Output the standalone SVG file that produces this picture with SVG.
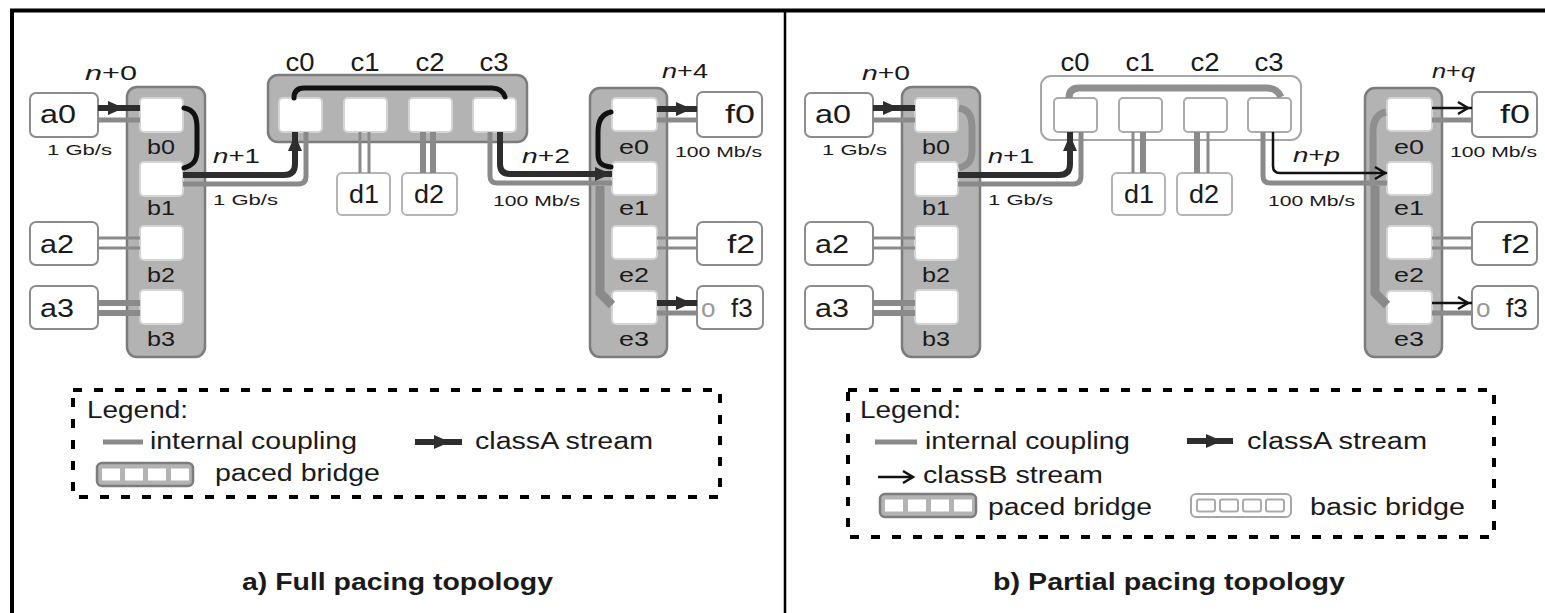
<svg xmlns="http://www.w3.org/2000/svg" width="1545" height="613" viewBox="0 0 1545 613">
<defs>
<style>
text{font-family:"Liberation Sans",Arial,sans-serif;fill:#1a1a1a}
.host{fill:#fff;stroke:#8c8c8c;stroke-width:2}
.dhost{fill:#fff;stroke:#b4b4b4;stroke-width:2}
.paced{fill:#b3b3b3;stroke:#7c7c7c;stroke-width:2.5}
.port{fill:#fff;stroke:#d4d4d4;stroke-width:2}
.basic{fill:#fff;stroke:#a6a6a6;stroke-width:2}
.bport{fill:#fff;stroke:#ababab;stroke-width:2}
.lbl{font-size:26px}
.plbl{font-size:21px}
.hop{font-size:21px}
.rate{font-size:15px}
.leg{font-size:23px}
.cap{font-size:24px;font-weight:bold}
.ic{fill:none;stroke:#8a8a8a}
.thin{stroke-width:3}
.mid{stroke-width:5}
.thick{stroke-width:6}
.sa{fill:none;stroke:#2e2e2e;stroke-width:6}
.sb{fill:none;stroke:#111;stroke-width:2.5}
.fwd{fill:none;stroke:#111;stroke-width:5;stroke-linecap:round}
.fwdg{fill:none;stroke:#8f8f8f;stroke-width:7}
.legbox{fill:none;stroke:#000;stroke-width:4;stroke-dasharray:9 12}
.ring{fill:#999}
</style>
<path id="headA" d="M-14,-7 L2,0 L-14,7 Z" fill="#2e2e2e"/>
<path id="headB" d="M-9,-6 L1,0 L-9,6" fill="none" stroke="#111" stroke-width="2.5"/>
</defs>

<rect width="1545" height="613" fill="#fff"/>

<!-- outer frame and divider -->
<g id="frame" stroke="#000" fill="none">
  <line x1="10" y1="10.5" x2="1545" y2="10.5" stroke-width="4"/>
  <line x1="12" y1="9" x2="12" y2="613" stroke-width="4"/>
  <line x1="785" y1="10" x2="785" y2="613" stroke-width="2.5"/>
</g>

<!-- ===== a) full pacing ===== -->
<g id="panel-a">
  <g id="a-a0"><rect class="host" x="30" y="93" width="68" height="44" rx="6"/><text class="lbl" x="40" y="123" textLength="36" lengthAdjust="spacingAndGlyphs">a0</text></g>
  <g id="a-a2"><rect class="host" x="30" y="222" width="68" height="43" rx="6"/><text class="lbl" x="40" y="253" textLength="34" lengthAdjust="spacingAndGlyphs">a2</text></g>
  <g id="a-a3"><rect class="host" x="30" y="286" width="68" height="43" rx="6"/><text class="lbl" x="40" y="317" textLength="34" lengthAdjust="spacingAndGlyphs">a3</text></g>

  <g id="a-b">
    <rect class="paced" x="127" y="87" width="78" height="270" rx="10"/>
    <rect class="port" x="140" y="98" width="43" height="34" rx="4"/>
    <rect class="port" x="140" y="162" width="43" height="34" rx="4"/>
    <rect class="port" x="140" y="226" width="43" height="34" rx="4"/>
    <rect class="port" x="140" y="290" width="43" height="34" rx="4"/>
    <g class="plbl" text-anchor="middle">
      <text x="161" y="154" textLength="28" lengthAdjust="spacingAndGlyphs">b0</text>
      <text x="161" y="215" textLength="28" lengthAdjust="spacingAndGlyphs">b1</text>
      <text x="161" y="282" textLength="28" lengthAdjust="spacingAndGlyphs">b2</text>
      <text x="161" y="346" textLength="28" lengthAdjust="spacingAndGlyphs">b3</text>
    </g>
  </g>

  <g id="a-c">
    <rect class="paced" x="268" y="75" width="259" height="67" rx="10"/>
    <rect class="port" x="279" y="98" width="43" height="34" rx="4"/>
    <rect class="port" x="344" y="98" width="43" height="34" rx="4"/>
    <rect class="port" x="409" y="98" width="43" height="34" rx="4"/>
    <rect class="port" x="473" y="98" width="43" height="34" rx="4"/>
    <g class="lbl" text-anchor="middle">
      <text x="300" y="71" textLength="29" lengthAdjust="spacingAndGlyphs">c0</text>
      <text x="365" y="71" textLength="29" lengthAdjust="spacingAndGlyphs">c1</text>
      <text x="430" y="71" textLength="29" lengthAdjust="spacingAndGlyphs">c2</text>
      <text x="494" y="71" textLength="29" lengthAdjust="spacingAndGlyphs">c3</text>
    </g>
  </g>

  <g id="a-d1"><rect class="dhost" x="337" y="173" width="53" height="42" rx="5"/><text class="lbl" x="364" y="203" text-anchor="middle" textLength="30" lengthAdjust="spacingAndGlyphs">d1</text></g>
  <g id="a-d2"><rect class="dhost" x="402" y="173" width="55" height="42" rx="5"/><text class="lbl" x="429" y="203" text-anchor="middle" textLength="30" lengthAdjust="spacingAndGlyphs">d2</text></g>

  <g id="a-e">
    <rect class="paced" x="590" y="88" width="77" height="269" rx="10"/>
    <rect class="port" x="612" y="98" width="45" height="33" rx="4"/>
    <rect class="port" x="612" y="162" width="45" height="33" rx="4"/>
    <rect class="port" x="612" y="226" width="45" height="33" rx="4"/>
    <rect class="port" x="612" y="291" width="45" height="33" rx="4"/>
    <g class="plbl" text-anchor="middle">
      <text x="634" y="154" textLength="30" lengthAdjust="spacingAndGlyphs">e0</text>
      <text x="634" y="215" textLength="30" lengthAdjust="spacingAndGlyphs">e1</text>
      <text x="634" y="282" textLength="30" lengthAdjust="spacingAndGlyphs">e2</text>
      <text x="634" y="346" textLength="30" lengthAdjust="spacingAndGlyphs">e3</text>
    </g>
  </g>

  <g id="a-f0"><rect class="host" x="697" y="92" width="65" height="45" rx="6"/><text class="lbl" x="755" y="123" text-anchor="end" textLength="30" lengthAdjust="spacingAndGlyphs">f0</text></g>
  <g id="a-f2"><rect class="host" x="697" y="222" width="65" height="43" rx="6"/><text class="lbl" x="755" y="253" text-anchor="end" textLength="28" lengthAdjust="spacingAndGlyphs">f2</text></g>
  <g id="a-f3"><rect class="host" x="697" y="286" width="66" height="43" rx="6"/><text class="lbl" x="701" y="317"><tspan class="ring">o</tspan><tspan x="731">f3</tspan></text></g>

  <g id="a-connectors">
    <!-- internal couplings -->
    <line class="ic mid" x1="98" y1="120" x2="140" y2="120"/>
    <line class="ic thin" x1="98" y1="238" x2="140" y2="238"/>
    <line class="ic thin" x1="98" y1="248" x2="140" y2="248"/>
    <line class="ic thick" x1="98" y1="303" x2="140" y2="303"/>
    <line class="ic thick" x1="98" y1="313" x2="140" y2="313"/>
    <path class="ic mid" d="M183,184 H298 Q306,184 306,176 V132"/>
    <line class="ic thin" x1="360" y1="132" x2="360" y2="173"/>
    <line class="ic thin" x1="369" y1="132" x2="369" y2="173"/>
    <line class="ic thick" x1="423" y1="132" x2="423" y2="173"/>
    <line class="ic thick" x1="433" y1="132" x2="433" y2="173"/>
    <path class="ic mid" d="M490,132 V176 Q490,183 497,183 H612"/>
    <path class="ic" stroke-width="9" d="M600,186 V293 L612,305"/>
    <line class="ic mid" x1="657" y1="120" x2="697" y2="120"/>
    <line class="ic thin" x1="657" y1="238" x2="697" y2="238"/>
    <line class="ic thin" x1="657" y1="248" x2="697" y2="248"/>
    <line class="ic mid" x1="657" y1="313" x2="697" y2="313"/>
    <!-- forwarding inside bridges -->
    <path class="fwd" d="M184,108 C195,110 197,118 197,128 V150 C197,160 194,165 184,168"/>
    <path class="fwd" d="M294,98 Q294,88 304,88 H492 Q502,88 505,97"/>
    <path class="fwd" d="M611,112 C601,114 598,122 598,132 V155 C598,163 602,166 611,167"/>
    <!-- classA stream -->
    <line class="sa" x1="98" y1="108" x2="140" y2="108"/>
    <use href="#headA" transform="translate(122,108)"/>
    <path class="sa" d="M183,175 H284 Q295,175 295,164 V132"/>
    <use href="#headA" transform="translate(295,137) rotate(-90)"/>
    <path class="sa" d="M500,132 V164 Q500,174 510,174 H612"/>
    <use href="#headA" transform="translate(609,174)"/>
    <line class="sa" x1="657" y1="109" x2="697" y2="109"/>
    <use href="#headA" transform="translate(690,109)"/>
    <line class="sa" x1="657" y1="303" x2="697" y2="303"/>
    <use href="#headA" transform="translate(690,303)"/>
  </g>

  <g id="a-labels">
    <text class="hop" x="85" y="80" textLength="52" lengthAdjust="spacingAndGlyphs"><tspan font-style="italic">n</tspan>+0</text>
    <text class="hop" x="213" y="163" textLength="47" lengthAdjust="spacingAndGlyphs"><tspan font-style="italic">n</tspan>+1</text>
    <text class="hop" x="522" y="163" textLength="48" lengthAdjust="spacingAndGlyphs"><tspan font-style="italic">n</tspan>+2</text>
    <text class="hop" x="662" y="78" textLength="46" lengthAdjust="spacingAndGlyphs"><tspan font-style="italic">n</tspan>+4</text>
    <text class="rate" x="47" y="155" textLength="65" lengthAdjust="spacingAndGlyphs">1 Gb/s</text>
    <text class="rate" x="213" y="205" textLength="65" lengthAdjust="spacingAndGlyphs">1 Gb/s</text>
    <text class="rate" x="493" y="206" textLength="87" lengthAdjust="spacingAndGlyphs">100 Mb/s</text>
    <text class="rate" x="675" y="157" textLength="87" lengthAdjust="spacingAndGlyphs">100 Mb/s</text>
  </g>

  <g id="a-legend">
    <rect class="legbox" x="73" y="390" width="647" height="107"/>
    <text class="leg" x="87" y="418" textLength="101" lengthAdjust="spacingAndGlyphs">Legend:</text>
    <line class="ic mid" x1="103" y1="442" x2="143" y2="442"/>
    <text class="leg" x="150" y="449" textLength="207" lengthAdjust="spacingAndGlyphs">internal coupling</text>
    <line class="sa" x1="415" y1="442" x2="462" y2="442" stroke-width="5"/>
    <use href="#headA" transform="translate(448,442)"/>
    <text class="leg" x="475" y="449" textLength="178" lengthAdjust="spacingAndGlyphs">classA stream</text>
    <rect class="paced" x="97" y="463" width="96" height="23" rx="5"/>
    <rect fill="#fff" x="102" y="468.5" width="18" height="12"/>
    <rect fill="#fff" x="125" y="468.5" width="18" height="12"/>
    <rect fill="#fff" x="148" y="468.5" width="18" height="12"/>
    <rect fill="#fff" x="171" y="468.5" width="18" height="12"/>
    <text class="leg" x="215" y="481" textLength="165" lengthAdjust="spacingAndGlyphs">paced bridge</text>
  </g>

  <text class="cap" x="242" y="590" textLength="311" lengthAdjust="spacingAndGlyphs">a) Full pacing topology</text>
</g>

<!-- ===== b) partial pacing ===== -->
<g id="panel-b" transform="translate(775,0)">
  <g id="b-a0"><rect class="host" x="30" y="93" width="68" height="44" rx="6"/><text class="lbl" x="40" y="123" textLength="36" lengthAdjust="spacingAndGlyphs">a0</text></g>
  <g id="b-a2"><rect class="host" x="30" y="222" width="68" height="43" rx="6"/><text class="lbl" x="40" y="253" textLength="34" lengthAdjust="spacingAndGlyphs">a2</text></g>
  <g id="b-a3"><rect class="host" x="30" y="286" width="68" height="43" rx="6"/><text class="lbl" x="40" y="317" textLength="34" lengthAdjust="spacingAndGlyphs">a3</text></g>

  <g id="b-b">
    <rect class="paced" x="127" y="87" width="78" height="270" rx="10"/>
    <rect class="port" x="140" y="98" width="43" height="34" rx="4"/>
    <rect class="port" x="140" y="162" width="43" height="34" rx="4"/>
    <rect class="port" x="140" y="226" width="43" height="34" rx="4"/>
    <rect class="port" x="140" y="290" width="43" height="34" rx="4"/>
    <g class="plbl" text-anchor="middle">
      <text x="161" y="154" textLength="28" lengthAdjust="spacingAndGlyphs">b0</text>
      <text x="161" y="215" textLength="28" lengthAdjust="spacingAndGlyphs">b1</text>
      <text x="161" y="282" textLength="28" lengthAdjust="spacingAndGlyphs">b2</text>
      <text x="161" y="346" textLength="28" lengthAdjust="spacingAndGlyphs">b3</text>
    </g>
  </g>

  <g id="b-c">
    <rect class="basic" x="266" y="76" width="260" height="64" rx="10"/>
    <rect class="bport" x="279" y="98" width="43" height="34" rx="4"/>
    <rect class="bport" x="344" y="98" width="43" height="34" rx="4"/>
    <rect class="bport" x="409" y="98" width="43" height="34" rx="4"/>
    <rect class="bport" x="473" y="98" width="43" height="34" rx="4"/>
    <g class="lbl" text-anchor="middle">
      <text x="300" y="71" textLength="29" lengthAdjust="spacingAndGlyphs">c0</text>
      <text x="365" y="71" textLength="29" lengthAdjust="spacingAndGlyphs">c1</text>
      <text x="430" y="71" textLength="29" lengthAdjust="spacingAndGlyphs">c2</text>
      <text x="494" y="71" textLength="29" lengthAdjust="spacingAndGlyphs">c3</text>
    </g>
  </g>

  <g id="b-d1"><rect class="dhost" x="337" y="173" width="53" height="42" rx="5"/><text class="lbl" x="364" y="203" text-anchor="middle" textLength="30" lengthAdjust="spacingAndGlyphs">d1</text></g>
  <g id="b-d2"><rect class="dhost" x="402" y="173" width="55" height="42" rx="5"/><text class="lbl" x="429" y="203" text-anchor="middle" textLength="30" lengthAdjust="spacingAndGlyphs">d2</text></g>

  <g id="b-e">
    <rect class="paced" x="590" y="88" width="77" height="269" rx="10"/>
    <rect class="port" x="612" y="98" width="45" height="33" rx="4"/>
    <rect class="port" x="612" y="162" width="45" height="33" rx="4"/>
    <rect class="port" x="612" y="226" width="45" height="33" rx="4"/>
    <rect class="port" x="612" y="291" width="45" height="33" rx="4"/>
    <g class="plbl" text-anchor="middle">
      <text x="634" y="154" textLength="30" lengthAdjust="spacingAndGlyphs">e0</text>
      <text x="634" y="215" textLength="30" lengthAdjust="spacingAndGlyphs">e1</text>
      <text x="634" y="282" textLength="30" lengthAdjust="spacingAndGlyphs">e2</text>
      <text x="634" y="346" textLength="30" lengthAdjust="spacingAndGlyphs">e3</text>
    </g>
  </g>

  <g id="b-f0"><rect class="host" x="697" y="92" width="65" height="45" rx="6"/><text class="lbl" x="755" y="123" text-anchor="end" textLength="30" lengthAdjust="spacingAndGlyphs">f0</text></g>
  <g id="b-f2"><rect class="host" x="697" y="222" width="65" height="43" rx="6"/><text class="lbl" x="755" y="253" text-anchor="end" textLength="28" lengthAdjust="spacingAndGlyphs">f2</text></g>
  <g id="b-f3"><rect class="host" x="697" y="286" width="66" height="43" rx="6"/><text class="lbl" x="701" y="317"><tspan class="ring">o</tspan><tspan x="731">f3</tspan></text></g>

  <g id="b-connectors">
    <!-- internal couplings -->
    <line class="ic mid" x1="98" y1="120" x2="140" y2="120"/>
    <line class="ic thin" x1="98" y1="238" x2="140" y2="238"/>
    <line class="ic thin" x1="98" y1="248" x2="140" y2="248"/>
    <line class="ic thick" x1="98" y1="303" x2="140" y2="303"/>
    <line class="ic thick" x1="98" y1="313" x2="140" y2="313"/>
    <path class="ic mid" d="M183,184 H298 Q306,184 306,176 V132"/>
    <line class="ic thin" x1="358" y1="132" x2="358" y2="173"/>
    <line class="ic thick" x1="368" y1="132" x2="368" y2="173"/>
    <line class="ic thick" x1="422" y1="132" x2="422" y2="173"/>
    <line class="ic thin" x1="433" y1="132" x2="433" y2="173"/>
    <path class="ic mid" d="M488,132 V176 Q488,183 495,183 H612"/>
    <path class="ic" stroke-width="9" d="M600,186 V293 L612,305"/>
    <line class="ic mid" x1="657" y1="120" x2="697" y2="120"/>
    <line class="ic thin" x1="657" y1="238" x2="697" y2="238"/>
    <line class="ic thin" x1="657" y1="248" x2="697" y2="248"/>
    <line class="ic mid" x1="657" y1="313" x2="697" y2="313"/>
    <!-- forwarding inside bridges -->
    <path class="fwdg" d="M184,108 C195,110 197,118 197,128 V150 C197,160 194,165 184,168"/>
    <path class="fwdg" stroke-width="6" d="M294,98 Q294,88 304,88 H492 Q502,88 506,97"/>
    <path class="fwdg" d="M611,112 C601,114 598,122 598,132 V186"/>
    <!-- classA stream -->
    <line class="sa" x1="98" y1="108" x2="140" y2="108"/>
    <use href="#headA" transform="translate(122,108)"/>
    <path class="sa" d="M183,175 H284 Q295,175 295,164 V132"/>
    <use href="#headA" transform="translate(295,137) rotate(-90)"/>
    <!-- classB stream -->
    <path class="sb" d="M498,132 V166 Q498,173 505,173 H612"/>
    <use href="#headB" transform="translate(609,173)"/>
    <line class="sb" x1="657" y1="108" x2="697" y2="108"/>
    <use href="#headB" transform="translate(692,108)"/>
    <line class="sb" x1="657" y1="303" x2="697" y2="303"/>
    <use href="#headB" transform="translate(692,303)"/>
  </g>

  <g id="b-labels">
    <text class="hop" x="87" y="80" textLength="48" lengthAdjust="spacingAndGlyphs"><tspan font-style="italic">n</tspan>+0</text>
    <text class="hop" x="213" y="163" textLength="46" lengthAdjust="spacingAndGlyphs"><tspan font-style="italic">n</tspan>+1</text>
    <text class="hop" x="518" y="162" textLength="47" lengthAdjust="spacingAndGlyphs"><tspan font-style="italic">n</tspan>+<tspan font-style="italic">p</tspan></text>
    <text class="hop" x="657" y="78" textLength="43" lengthAdjust="spacingAndGlyphs"><tspan font-style="italic">n</tspan>+<tspan font-style="italic">q</tspan></text>
    <text class="rate" x="47" y="155" textLength="65" lengthAdjust="spacingAndGlyphs">1 Gb/s</text>
    <text class="rate" x="213" y="205" textLength="65" lengthAdjust="spacingAndGlyphs">1 Gb/s</text>
    <text class="rate" x="493" y="206" textLength="87" lengthAdjust="spacingAndGlyphs">100 Mb/s</text>
    <text class="rate" x="675" y="157" textLength="87" lengthAdjust="spacingAndGlyphs">100 Mb/s</text>
  </g>

  <g id="b-legend">
    <rect class="legbox" x="73" y="390" width="646" height="147"/>
    <text class="leg" x="85" y="418" textLength="101" lengthAdjust="spacingAndGlyphs">Legend:</text>
    <line class="ic mid" x1="100" y1="442" x2="142" y2="442"/>
    <text class="leg" x="150" y="449" textLength="205" lengthAdjust="spacingAndGlyphs">internal coupling</text>
    <line class="sa" x1="412" y1="441" x2="458" y2="441" stroke-width="5"/>
    <use href="#headA" transform="translate(445,441)"/>
    <text class="leg" x="472" y="449" textLength="180" lengthAdjust="spacingAndGlyphs">classA stream</text>
    <line class="sb" x1="103" y1="477" x2="137" y2="477"/>
    <use href="#headB" transform="translate(137,477)"/>
    <text class="leg" x="148" y="483" textLength="180" lengthAdjust="spacingAndGlyphs">classB stream</text>
    <rect class="paced" x="105" y="494" width="96" height="23" rx="5"/>
    <rect fill="#fff" x="110" y="499.5" width="18" height="12"/>
    <rect fill="#fff" x="133" y="499.5" width="18" height="12"/>
    <rect fill="#fff" x="156" y="499.5" width="18" height="12"/>
    <rect fill="#fff" x="179" y="499.5" width="18" height="12"/>
    <text class="leg" x="213" y="515" textLength="164" lengthAdjust="spacingAndGlyphs">paced bridge</text>
    <rect class="basic" x="416" y="494" width="100" height="23" rx="5"/>
    <rect class="bport" stroke-width="1.5" x="422" y="499.5" width="18" height="12" rx="2"/>
    <rect class="bport" stroke-width="1.5" x="445" y="499.5" width="18" height="12" rx="2"/>
    <rect class="bport" stroke-width="1.5" x="468" y="499.5" width="18" height="12" rx="2"/>
    <rect class="bport" stroke-width="1.5" x="491" y="499.5" width="18" height="12" rx="2"/>
    <text class="leg" x="535" y="515" textLength="155" lengthAdjust="spacingAndGlyphs">basic bridge</text>
  </g>

  <text class="cap" x="218" y="590" textLength="352" lengthAdjust="spacingAndGlyphs">b) Partial pacing topology</text>
</g>
</svg>
